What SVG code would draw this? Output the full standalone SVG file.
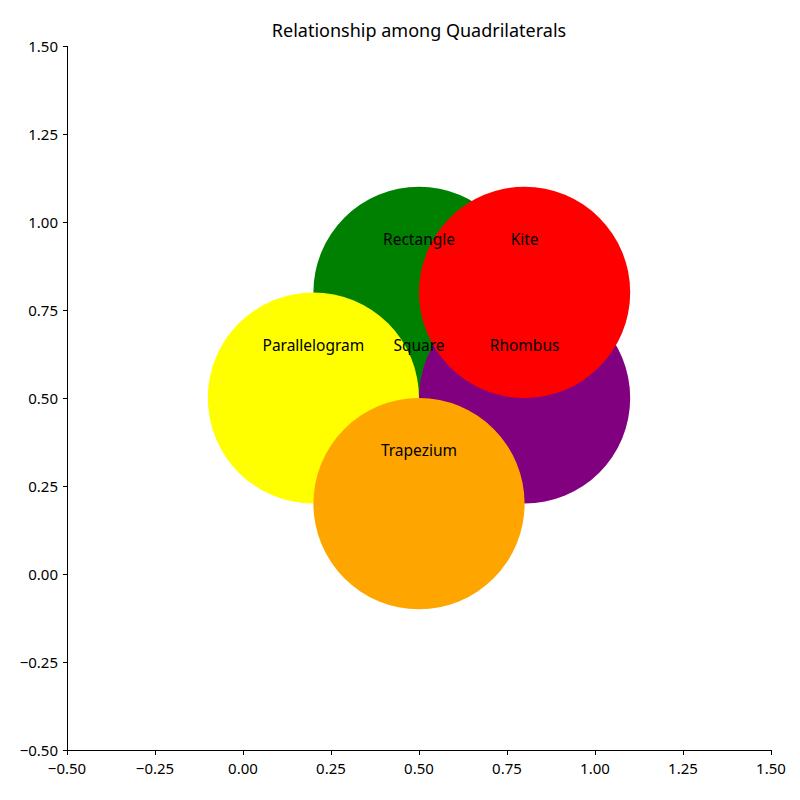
<svg xmlns="http://www.w3.org/2000/svg" width="800" height="800" viewBox="0 0 800 800">
<style>
text{font-family:"Noto Sans","Open Sans","DejaVu Sans",sans-serif;fill:#000}
.lbl{font-size:15.5px;text-anchor:middle;dominant-baseline:central}
.tk{font-size:15px}
.ty{text-anchor:end;dominant-baseline:central}
.tx{text-anchor:middle}
.ax{stroke:#000;stroke-width:1;fill:none}
</style>
<rect width="800" height="800" fill="#fff"/>
<g id="circles">
<circle id="rectangle" cx="419" cy="292.4" r="105.6" fill="#008000"/>
<circle id="parallelogram" cx="313.4" cy="398" r="105.6" fill="#ffff00"/>
<circle id="rhombus" cx="524.6" cy="398" r="105.6" fill="#800080"/>
<circle id="kite" cx="524.6" cy="292.4" r="105.6" fill="#ff0000"/>
<circle id="trapezium" cx="419" cy="503.6" r="105.6" fill="#ffa500"/>
</g>
<g id="labels">
<text class="lbl" x="419" y="238.5">Rectangle</text>
<text class="lbl" x="524.6" y="238.5">Kite</text>
<text class="lbl" x="313.4" y="344.5">Parallelogram</text>
<text class="lbl" x="419" y="344.5">Square</text>
<text class="lbl" x="524.6" y="344.5">Rhombus</text>
<text class="lbl" x="419" y="450">Trapezium</text>
</g>
<text x="419" y="37" font-size="18" text-anchor="middle">Relationship among Quadrilaterals</text>
<g id="axes">
<path class="ax" d="M67.5 46V750.5H771"/>
<path class="ax" d="M63 46.5H67M63 134.5H67M63 222.5H67M63 310.5H67M63 398.5H67M63 486.5H67M63 574.5H67M63 662.5H67M63 750.5H67"/>
<path class="ax" d="M67.5 750V755M155.5 750V755M243.5 750V755M331.5 750V755M419.5 750V755M507.5 750V755M595.5 750V755M683.5 750V755M771.5 750V755"/>
<g class="tk ty">
<text x="58" y="46">1.50</text>
<text x="58" y="134">1.25</text>
<text x="58" y="222">1.00</text>
<text x="58" y="310">0.75</text>
<text x="58" y="398">0.50</text>
<text x="58" y="486">0.25</text>
<text x="58" y="574">0.00</text>
<text x="58" y="662">−0.25</text>
<text x="58" y="750">−0.50</text>
</g>
<g class="tk tx">
<text x="67" y="774">−0.50</text>
<text x="155" y="774">−0.25</text>
<text x="243" y="774">0.00</text>
<text x="331" y="774">0.25</text>
<text x="419" y="774">0.50</text>
<text x="507" y="774">0.75</text>
<text x="595" y="774">1.00</text>
<text x="683" y="774">1.25</text>
<text x="771" y="774">1.50</text>
</g>
</g>
</svg>
